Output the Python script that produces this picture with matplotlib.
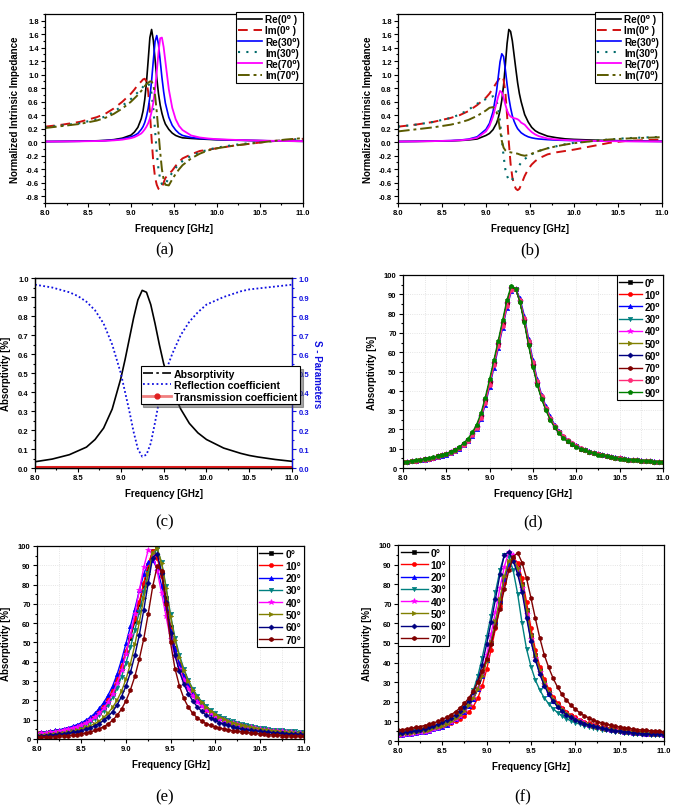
import matplotlib
matplotlib.use("Agg")
import matplotlib.pyplot as plt
from matplotlib.ticker import MultipleLocator, FormatStrFormatter
from matplotlib.lines import Line2D

plt.rcParams["font.family"] = ["Liberation Sans", "DejaVu Sans"]
plt.rcParams["font.weight"] = "bold"
plt.rcParams["axes.labelweight"] = "bold"
plt.rcParams["axes.linewidth"] = 0.9
plt.rcParams["xtick.major.size"] = 3
plt.rcParams["ytick.major.size"] = 3
plt.rcParams["xtick.minor.size"] = 1.6
plt.rcParams["ytick.minor.size"] = 1.6

# ---------------- data: panels (a) and (b) ----------------
freq_ab = [8.0, 8.2, 8.4, 8.6, 8.7, 8.8, 8.9, 9.0, 9.04, 9.08, 9.12, 9.14, 9.16, 9.18, 9.2,
           9.22, 9.24, 9.26, 9.28, 9.3, 9.32, 9.34, 9.36, 9.38, 9.4, 9.44, 9.48, 9.52, 9.56,
           9.6, 9.7, 9.8, 9.9, 10.0, 10.2, 10.4, 10.6, 10.8, 11.0]

re0_a = [.01, .012, .015, .021, .027, .038, .06, .105, .15, .22, .35, .46, .63, .88, 1.21,
         1.55, 1.67, 1.51, 1.23, .95, .72, .55, .43, .34, .27, .19, .135, .10, .08,
         .065, .056, .048, .042, .037, .03, .025, .02, .016, .013]
im0_a = [.23, .26, .30, .37, .42, .50, .60, .72, .78, .85, .90, .93, .94, .90, .75,
         .45, .05, -.30, -.52, -.63, -.69, -.70, -.67, -.60, -.53, -.47, -.42, -.35, -.29,
         -.24, -.18, -.13, -.11, -.09, -.05, -.02, .01, .03, .05]
re30_a = [.01, .012, .014, .019, .024, .032, .048, .08, .10, .13, .19, .23, .29, .38, .50,
          .67, .91, 1.21, 1.49, 1.58, 1.45, 1.21, .96, .75, .58, .37, .25, .18, .13,
          .10, .07, .055, .047, .04, .032, .026, .021, .017, .014]
im30_a = [.22, .25, .28, .34, .38, .45, .54, .64, .69, .74, .79, .82, .85, .87, .87,
          .83, .72, .50, .18, -.15, -.40, -.55, -.62, -.64, -.62, -.53, -.45, -.38, -.32,
          -.28, -.20, -.15, -.11, -.08, -.04, -.01, .01, .03, .05]
re70_a = [.01, .011, .013, .017, .021, .027, .038, .06, .075, .10, .13, .157, .19, .23, .28,
          .35, .45, .59, .785, 1.04, 1.33, 1.54, 1.55, 1.41, 1.20, .785, .51, .34, .24,
          .18, .10, .07, .055, .045, .035, .027, .022, .018, .015]
im70_a = [.21, .24, .27, .32, .36, .42, .50, .60, .65, .70, .76, .79, .83, .86, .88,
          .90, .90, .85, .70, .45, .15, -.15, -.40, -.55, -.63, -.64, -.55, -.47, -.40,
          -.34, -.24, -.17, -.12, -.09, -.05, -.02, .01, .04, .06]

re0_b = [.01, .012, .015, .02, .025, .033, .048, .10, .13, .185, .28, .36, .47, .62, .84,
         1.14, 1.46, 1.67, 1.64, 1.50, 1.29, 1.08, .88, .72, .60, .41, .30, .22, .17,
         .14, .09, .067, .05, .042, .032, .025, .02, .016, .013]
im0_b = [.23, .26, .30, .36, .40, .46, .55, .66, .72, .80, .88, .92, .96, .98, .93,
         .75, .40, .00, -.32, -.52, -.63, -.69, -.71, -.69, -.63, -.50, -.40, -.33, -.28,
         -.24, -.18, -.15, -.13, -.11, -.06, -.01, .02, .03, .04]
re30_b = [.01, .013, .017, .024, .031, .045, .08, .19, .28, .45, .75, .97, 1.19, 1.31, 1.27,
          1.08, .86, .66, .51, .39, .31, .25, .20, .17, .14, .105, .08, .065, .055,
          .048, .038, .031, .027, .024, .02, .017, .015, .013, .012]
im30_b = [.23, .26, .30, .36, .41, .48, .57, .64, .67, .68, .62, .50, .30, .05, -.20,
          -.40, -.50, -.56, -.58, -.55, -.50, -.44, -.39, -.34, -.30, -.25, -.21, -.18, -.15,
          -.13, -.09, -.06, -.03, -.01, .02, .04, .06, .07, .08]
re70_b = [.01, .012, .016, .022, .028, .04, .065, .16, .24, .38, .58, .68, .76, .74, .66,
          .56, .47, .41, .38, .365, .355, .35, .34, .32, .29, .26, .20, .15, .115,
          .09, .055, .04, .032, .027, .02, .016, .013, .011, .01]
im70_b = [.16, .19, .22, .26, .29, .33, .39, .47, .51, .52, .45, .35, .18, .02, -.08,
          -.12, -.14, -.145, -.15, -.155, -.16, -.165, -.17, -.18, -.19, -.20, -.19, -.17, -.15,
          -.13, -.09, -.06, -.035, -.015, .015, .04, .055, .065, .075]

ab_labels = ["Re(0\u2070 )", "Im(0\u2070 )", "Re(30\u2070)", "Im(30\u2070)", "Re(70\u2070)", "Im(70\u2070)"]

# ---------------- data: panel (c) ----------------
freq_c = [8.0, 8.2, 8.4, 8.5, 8.6, 8.7, 8.8, 8.9, 9.0, 9.05, 9.1, 9.15, 9.2, 9.25, 9.3,
          9.35, 9.4, 9.45, 9.5, 9.55, 9.6, 9.7, 9.8, 9.9, 10.0, 10.2, 10.4, 10.5, 10.6, 10.8, 11.0]
absorp_c = [.033, .047, .07, .09, .11, .15, .21, .31, .47, .57, .68, .79, .885, .935, .925,
            .86, .76, .65, .55, .47, .41, .31, .235, .185, .15, .105, .077, .066, .058, .045, .035]
reflect_c = [.965, .95, .925, .905, .875, .83, .76, .65, .5, .4, .3, .19, .1, .06, .07,
             .13, .24, .36, .46, .54, .6, .7, .77, .82, .86, .9, .93, .94, .945, .955, .965]
transmit_c = [.005] * 31

# ---------------- data: panels (d), (e), (f) ----------------
freq_def = [8.00, 8.05, 8.10, 8.15, 8.20, 8.25, 8.30, 8.35, 8.40, 8.45,
            8.50, 8.55, 8.60, 8.65, 8.70, 8.75, 8.80, 8.85, 8.90, 8.95,
            9.00, 9.05, 9.10, 9.15, 9.20, 9.25, 9.30, 9.35, 9.40, 9.45,
            9.50, 9.55, 9.60, 9.65, 9.70, 9.75, 9.80, 9.85, 9.90, 9.95,
            10.00, 10.05, 10.10, 10.15, 10.20, 10.25, 10.30, 10.35, 10.40, 10.45,
            10.50, 10.55, 10.60, 10.65, 10.70, 10.75, 10.80, 10.85, 10.90, 10.95, 11.00]

d_0 = [3.0, 3.2, 3.5, 3.8, 4.1, 4.5, 4.9, 5.4, 6.0, 6.6, 7.3, 8.1, 9.1, 10.5, 12.3, 14.6, 17.6, 21.5, 27.0, 35.0,
       44.5, 54.5, 64.5, 75.0, 85.5, 93.5, 93.0, 86.5, 76.5, 64.5, 53.5, 44.0, 36.5, 30.5, 25.5, 21.5, 18.5, 16.0, 14.0, 12.5,
       11.2, 10.1, 9.2, 8.4, 7.7, 7.1, 6.6, 6.1, 5.7, 5.3, 5.0, 4.7, 4.4, 4.2, 4.0, 3.8, 3.6, 3.4, 3.3, 3.1, 3.0]
d_20 = [2.9, 3.1, 3.4, 3.7, 4.0, 4.4, 4.8, 5.2, 5.8, 6.4, 7.0, 7.8, 8.8, 10.0, 11.7, 13.9, 16.7, 20.3, 25.3, 32.8,
        42.0, 52.0, 62.0, 72.5, 83.0, 91.5, 93.0, 88.0, 79.0, 67.0, 56.0, 46.0, 38.0, 32.0, 26.8, 22.5, 19.3, 16.8, 14.6, 13.0,
        11.7, 10.5, 9.5, 8.7, 8.0, 7.3, 6.8, 6.3, 5.9, 5.5, 5.1, 4.8, 4.5, 4.3, 4.1, 3.9, 3.7, 3.5, 3.4, 3.2, 3.1]
d_80 = [2.9, 3.1, 3.4, 3.7, 4.0, 4.4, 4.8, 5.3, 5.9, 6.5, 7.1, 7.9, 8.9, 10.2, 12.0, 14.2, 17.1, 20.8, 26.0, 33.8,
        43.2, 53.2, 63.2, 73.5, 84.0, 92.0, 92.5, 87.0, 77.5, 65.8, 54.8, 45.0, 37.3, 31.2, 26.1, 22.0, 18.9, 16.4, 14.3, 12.7,
        11.4, 10.3, 9.3, 8.5, 7.8, 7.2, 6.7, 6.2, 5.8, 5.4, 5.0, 4.7, 4.4, 4.2, 4.0, 3.8, 3.6, 3.4, 3.3, 3.1, 3.0]
d_90 = [3.1, 3.3, 3.6, 3.9, 4.2, 4.6, 5.0, 5.5, 6.1, 6.8, 7.5, 8.4, 9.4, 10.9, 12.8, 15.2, 18.4, 22.5, 28.3, 36.5,
        46.0, 56.0, 66.0, 76.5, 87.0, 94.5, 93.0, 86.0, 75.5, 63.5, 52.5, 43.0, 35.8, 29.8, 25.0, 21.0, 18.1, 15.7, 13.8, 12.3,
        11.0, 10.0, 9.1, 8.3, 7.6, 7.0, 6.5, 6.0, 5.6, 5.2, 4.9, 4.6, 4.3, 4.1, 3.9, 3.7, 3.5, 3.4, 3.2, 3.1, 3.0]
d_labels = ["0\u2070", "10\u2070", "20\u2070", "30\u2070", "40\u2070", "50\u2070", "60\u2070", "70\u2070", "80\u2070", "90\u2070"]
d_series = [d_0, d_0, d_20, d_0, d_0, d_0, d_0, d_0, d_80, d_90]

e_0 = [2.7, 2.9, 3.1, 3.4, 3.7, 4.1, 4.5, 5.0, 5.6, 6.4, 7.4, 8.6, 10.0, 11.8, 14.0, 16.8, 20.2, 24.5, 30.0, 37.0,
       44.5, 52.5, 61.0, 70.0, 80.0, 89.0, 97.5, 95.0, 86.0, 73.0, 58.0, 47.0, 39.0, 32.5, 27.5, 23.5, 20.0, 17.5, 15.3, 13.5,
       12.0, 10.8, 9.8, 9.0, 8.3, 7.6, 7.0, 6.5, 6.0, 5.6, 5.2, 4.9, 4.6, 4.3, 4.1, 3.9, 3.7, 3.5, 3.3, 3.2, 3.0]
e_10 = [2.9, 3.1, 3.3, 3.6, 3.9, 4.3, 4.8, 5.3, 5.9, 6.7, 7.7, 8.9, 10.4, 12.3, 14.6, 17.5, 21.0, 25.5, 31.0, 38.0,
        45.5, 53.5, 62.0, 71.0, 81.0, 90.5, 97.5, 94.0, 84.5, 71.5, 57.0, 46.5, 38.5, 32.3, 27.3, 23.3, 20.0, 17.4, 15.2, 13.4,
        12.0, 10.8, 9.8, 9.0, 8.3, 7.6, 7.0, 6.5, 6.0, 5.6, 5.2, 4.9, 4.6, 4.3, 4.1, 3.9, 3.7, 3.5, 3.3, 3.2, 3.0]
e_20 = [3.2, 3.4, 3.7, 4.0, 4.4, 4.8, 5.3, 5.9, 6.6, 7.4, 8.4, 9.7, 11.3, 13.3, 15.8, 18.9, 22.8, 27.5, 33.5, 41.0,
        49.5, 58.5, 67.5, 77.0, 85.5, 91.5, 92.5, 88.5, 79.5, 68.0, 56.0, 46.5, 39.0, 32.8, 27.8, 23.7, 20.3, 17.6, 15.4, 13.6,
        12.1, 10.9, 9.9, 9.1, 8.3, 7.7, 7.1, 6.6, 6.1, 5.7, 5.3, 5.0, 4.7, 4.4, 4.2, 4.0, 3.8, 3.6, 3.4, 3.3, 3.1]
e_30 = [2.5, 2.7, 2.9, 3.2, 3.5, 3.8, 4.2, 4.7, 5.2, 5.9, 6.7, 7.7, 8.9, 10.4, 12.3, 14.7, 17.7, 21.5, 26.3, 32.3,
        39.5, 47.5, 56.5, 66.0, 76.0, 86.0, 95.0, 98.5, 91.5, 79.0, 64.5, 52.5, 43.5, 36.3, 30.5, 26.0, 22.3, 19.4, 17.0, 15.0,
        13.3, 12.0, 10.9, 9.9, 9.1, 8.4, 7.8, 7.2, 6.7, 6.3, 5.9, 5.5, 5.2, 4.9, 4.7, 4.4, 4.2, 4.0, 3.9, 3.7, 3.6]
e_40 = [2.8, 3.0, 3.2, 3.5, 3.8, 4.2, 4.6, 5.1, 5.7, 6.4, 7.2, 8.3, 9.6, 11.3, 13.4, 16.0, 19.3, 23.5, 28.8, 35.5,
        44.0, 54.0, 65.0, 77.0, 89.0, 98.0, 96.0, 87.0, 75.5, 63.5, 52.0, 43.0, 36.0, 30.5, 26.0, 22.3, 19.3, 16.9, 14.9, 13.2,
        11.8, 10.6, 9.6, 8.8, 8.1, 7.5, 6.9, 6.4, 6.0, 5.6, 5.2, 4.9, 4.6, 4.3, 4.1, 3.9, 3.7, 3.5, 3.3, 3.2, 3.0]
e_50 = [2.0, 2.1, 2.3, 2.5, 2.7, 3.0, 3.3, 3.7, 4.1, 4.6, 5.2, 6.0, 6.9, 8.0, 9.4, 11.2, 13.5, 16.4, 20.1, 24.8,
        31.0, 39.0, 49.0, 60.5, 73.0, 85.5, 96.5, 99.0, 91.0, 78.0, 63.5, 51.5, 42.5, 35.5, 30.0, 25.5, 21.8, 18.9, 16.5, 14.5,
        12.8, 11.4, 10.3, 9.3, 8.5, 7.8, 7.2, 6.6, 6.1, 5.7, 5.3, 4.9, 4.6, 4.3, 4.0, 3.8, 3.6, 3.4, 3.2, 3.0, 2.9]
e_60 = [1.5, 1.6, 1.8, 2.0, 2.2, 2.4, 2.7, 3.0, 3.4, 3.8, 4.3, 5.0, 5.8, 6.8, 8.0, 9.6, 11.6, 14.2, 17.6, 22.0,
        27.5, 34.5, 43.5, 54.0, 67.0, 81.0, 94.0, 96.0, 86.0, 71.0, 55.0, 43.5, 35.0, 28.5, 23.5, 19.7, 16.7, 14.3, 12.4, 10.9,
        9.6, 8.5, 7.7, 7.0, 6.4, 5.8, 5.3, 4.9, 4.6, 4.2, 4.0, 3.7, 3.5, 3.3, 3.1, 2.9, 2.8, 2.7, 2.5, 2.4, 2.3]
e_70 = [0.8, 0.9, 1.0, 1.1, 1.2, 1.4, 1.6, 1.8, 2.0, 2.3, 2.7, 3.1, 3.7, 4.4, 5.3, 6.4, 7.8, 9.7, 12.2, 15.5,
        19.8, 25.5, 32.5, 41.5, 52.0, 65.0, 79.0, 89.5, 87.0, 70.0, 50.0, 36.5, 27.5, 21.0, 16.5, 13.3, 11.0, 9.3, 8.0, 7.0,
        6.3, 5.7, 5.2, 4.7, 4.3, 4.0, 3.7, 3.4, 3.1, 2.9, 2.7, 2.5, 2.3, 2.1, 2.0, 1.8, 1.7, 1.6, 1.5, 1.4, 1.3]
e_series = [e_0, e_10, e_20, e_30, e_40, e_50, e_60, e_70]

f_0 = [4.5, 4.7, 4.9, 5.1, 5.4, 5.7, 6.0, 6.4, 6.9, 7.4, 8.0, 8.8, 9.8, 11.2, 13.0, 15.3, 18.0, 21.5, 26.5, 33.5,
       41.5, 50.0, 60.0, 71.0, 82.0, 91.0, 93.0, 89.0, 80.0, 67.0, 54.0, 44.0, 36.0, 30.0, 25.2, 21.5, 18.6, 16.2, 14.3, 12.7,
       11.4, 10.3, 9.4, 8.6, 7.9, 7.3, 6.8, 6.3, 5.9, 5.5, 5.2, 4.9, 4.6, 4.4, 4.2, 4.0, 3.9, 3.8, 3.6, 3.5, 3.4]
f_10 = [4.3, 4.5, 4.7, 4.9, 5.1, 5.4, 5.7, 6.0, 6.4, 6.9, 7.5, 8.2, 9.0, 10.0, 11.3, 12.8, 14.8, 17.6, 21.8, 28.0,
        36.5, 46.5, 57.5, 69.0, 80.5, 90.0, 93.5, 91.0, 83.0, 71.0, 57.5, 46.5, 38.0, 31.5, 26.5, 22.5, 19.5, 17.0, 15.0, 13.3,
        12.0, 10.9, 9.9, 9.1, 8.4, 7.8, 7.2, 6.7, 6.3, 5.9, 5.6, 5.3, 5.0, 4.8, 4.6, 4.4, 4.3, 4.2, 4.1, 4.0, 3.9]
f_20 = [3.0, 3.2, 3.4, 3.7, 4.0, 4.4, 4.8, 5.3, 5.9, 6.6, 7.4, 8.4, 9.6, 11.0, 12.8, 15.0, 17.8, 21.5, 26.5, 33.0,
        41.5, 51.0, 61.0, 72.0, 82.5, 90.5, 92.5, 87.5, 78.0, 64.5, 51.5, 42.0, 34.5, 28.8, 24.2, 20.6, 17.8, 15.6, 13.8, 12.3,
        11.0, 10.0, 9.1, 8.3, 7.7, 7.1, 6.6, 6.1, 5.7, 5.4, 5.1, 4.8, 4.5, 4.3, 4.1, 3.9, 3.7, 3.6, 3.5, 3.4, 3.3]
f_30 = [4.0, 4.2, 4.5, 4.8, 5.1, 5.5, 6.0, 6.5, 7.1, 7.8, 8.6, 9.6, 10.8, 12.3, 14.3, 16.9, 20.4, 25.8, 33.0, 42.5,
        53.0, 64.0, 76.0, 87.0, 95.0, 94.0, 87.0, 75.0, 60.0, 47.0, 38.0, 31.0, 26.0, 22.0, 19.0, 16.5, 14.5, 12.8, 11.4, 10.3,
        9.4, 8.6, 7.9, 7.3, 6.7, 6.2, 5.8, 5.4, 5.0, 4.7, 4.4, 4.2, 4.0, 3.8, 3.6, 3.5, 3.4, 3.3, 3.2, 3.1, 3.0]
f_40 = [3.0, 3.2, 3.4, 3.7, 4.0, 4.4, 4.8, 5.3, 5.9, 6.6, 7.5, 8.5, 9.7, 11.2, 13.0, 15.3, 18.2, 22.0, 27.0, 34.5,
        44.0, 54.5, 66.0, 78.0, 89.0, 96.5, 95.0, 88.0, 78.0, 65.0, 52.0, 42.5, 35.0, 29.0, 24.5, 20.9, 18.0, 15.7, 13.8, 12.3,
        11.0, 10.0, 9.1, 8.3, 7.7, 7.1, 6.6, 6.1, 5.7, 5.4, 5.1, 4.8, 4.5, 4.3, 4.1, 3.9, 3.7, 3.6, 3.5, 3.4, 3.3]
f_50 = [3.5, 3.7, 3.9, 4.2, 4.5, 4.9, 5.3, 5.8, 6.4, 7.1, 7.9, 8.9, 10.1, 11.5, 13.2, 15.4, 18.2, 21.8, 26.5, 33.0,
        41.0, 50.5, 61.0, 72.5, 84.0, 92.0, 93.5, 88.5, 79.5, 67.0, 54.0, 44.0, 36.0, 30.0, 25.2, 21.5, 18.6, 16.2, 14.3, 12.7,
        11.4, 10.3, 9.4, 8.6, 7.9, 7.3, 6.8, 6.3, 5.9, 5.5, 5.2, 4.9, 4.6, 4.4, 4.2, 4.0, 3.9, 3.8, 3.6, 3.5, 3.4]
f_60 = [4.0, 4.3, 4.6, 4.9, 5.3, 5.8, 6.3, 6.9, 7.6, 8.5, 9.5, 10.6, 11.9, 13.4, 15.3, 17.6, 20.6, 24.8, 30.5, 39.0,
        49.5, 60.5, 72.5, 85.0, 95.0, 96.5, 92.0, 85.0, 76.0, 63.0, 51.0, 41.5, 34.0, 28.3, 23.8, 20.3, 17.5, 15.3, 13.5, 12.0,
        10.8, 9.8, 8.9, 8.2, 7.6, 7.0, 6.5, 6.0, 5.6, 5.3, 5.0, 4.7, 4.4, 4.2, 4.0, 3.8, 3.7, 3.6, 3.5, 3.4, 3.3]
f_70 = [5.5, 5.8, 6.1, 6.5, 6.9, 7.4, 7.9, 8.5, 9.2, 10.0, 11.0, 12.1, 13.4, 15.0, 16.9, 19.2, 22.0, 25.5, 30.0, 35.5,
        42.0, 49.5, 58.0, 67.5, 77.5, 87.0, 94.0, 96.0, 91.0, 83.0, 73.0, 62.5, 52.5, 44.0, 37.5, 32.0, 27.5, 23.8, 20.8, 18.3,
        16.2, 14.5, 13.0, 11.8, 10.8, 9.9, 9.2, 8.6, 8.0, 7.5, 7.1, 6.7, 6.4, 6.1, 5.8, 5.6, 5.4, 5.2, 5.1, 4.9, 4.8]
f_series = [f_0, f_10, f_20, f_30, f_40, f_50, f_60, f_70]
ef_labels = ["0\u00b0", "10\u00b0", "20\u00b0", "30\u00b0", "40\u00b0", "50\u00b0", "60\u00b0", "70\u00b0"]

# ---------------- styles ----------------
angle_colors = ["#000000", "#ff0000", "#0000ff", "#008080", "#ff00ff", "#808000",
                "#000080", "#800000", "#ff2d78", "#008000"]
angle_markers = ["s", "o", "^", "v", "*", ">", "D", "h", "o", "p"]
angle_msize = [3, 3, 3.2, 3.2, 4.2, 3.2, 2.6, 3.2, 3, 3.4]

fig = plt.figure(figsize=(6.75, 8.12), dpi=100)
fig.patch.set_facecolor("white")


def style(ax, ylo, yhi, ymaj, ymin, fmt, grid=False):
    ax.set_xlim(8, 11)
    ax.set_ylim(ylo, yhi)
    ax.xaxis.set_major_locator(MultipleLocator(0.5))
    ax.xaxis.set_minor_locator(MultipleLocator(0.25))
    ax.xaxis.set_major_formatter(FormatStrFormatter("%.1f"))
    ax.yaxis.set_major_locator(MultipleLocator(ymaj))
    ax.yaxis.set_minor_locator(MultipleLocator(ymin))
    ax.yaxis.set_major_formatter(FormatStrFormatter(fmt))
    ax.tick_params(which="both", labelsize=5.5, pad=1.5, width=0.8)
    ax.set_xlabel("Frequency [GHz]", fontsize=7, labelpad=5)
    if grid:
        ax.grid(True, which="major", axis="y", color="#dcdcdc", ls=":", lw=0.6)
        ax.grid(True, which="both", axis="x", color="#dcdcdc", ls=":", lw=0.6)
        ax.set_axisbelow(True)


def leg(ax, size=7.2, spacing=0.15, **kw):
    l = ax.legend(prop={"size": size, "weight": "bold"}, frameon=True, fancybox=False,
                  edgecolor="black", framealpha=1, borderpad=0.25, labelspacing=spacing,
                  handletextpad=0.3, borderaxespad=0.0, **kw)
    l.get_frame().set_linewidth(0.8)
    return l


# ---- (a) and (b) ----
for rect, data in [([0.0667, 0.7488, 0.382, 0.2328], (re0_a, im0_a, re30_a, im30_a, re70_a, im70_a)),
                   ([0.5896, 0.7488, 0.391, 0.2328], (re0_b, im0_b, re30_b, im30_b, re70_b, im70_b))]:
    ax = fig.add_axes(rect)
    re0, im0, re30, im30, re70, im70 = data
    ax.plot(freq_ab, re0, color="black", lw=1.2, label=ab_labels[0])
    ax.plot(freq_ab, im0, color="#d01010", lw=1.4, ls=(0, (5, 3)), label=ab_labels[1])
    ax.plot(freq_ab, re30, color="#0000ff", lw=1.2, label=ab_labels[2])
    ax.plot(freq_ab, im30, color="#006a6a", lw=1.5, ls=(0, (1, 3)), label=ab_labels[3])
    ax.plot(freq_ab, re70, color="#ff00ff", lw=1.3, label=ab_labels[4])
    ax.plot(freq_ab, im70, color="#5a5a00", lw=1.4, ls=(0, (6, 2, 1.5, 2)), label=ab_labels[5])
    style(ax, -0.9, 1.9, 0.2, 0.1, "%.1f")
    ax.set_ylabel("Normalized Intrinsic Impedance", fontsize=7, labelpad=4)
    leg(ax, size=7.2, spacing=0.12, loc="upper right", bbox_to_anchor=(1.0, 1.012), handlelength=2.4)

# ---- (c) ----
axc = fig.add_axes([0.0519, 0.4224, 0.381, 0.234])
axc.plot(freq_c, absorp_c, color="black", lw=1.2)
style(axc, 0, 1.0, 0.1, 0.05, "%.1f")
axc.set_ylabel("Absorptivity [%]", fontsize=7, labelpad=5)
axc2 = axc.twinx()
axc2.plot(freq_c, reflect_c, color="#1010e0", lw=1.3, ls=(0, (1, 1.3)))
axc2.plot(freq_c, transmit_c, color="#e02020", lw=2.2)
axc2.set_ylim(0, 1.0)
axc2.yaxis.set_major_locator(MultipleLocator(0.1))
axc2.yaxis.set_minor_locator(MultipleLocator(0.05))
axc2.yaxis.set_major_formatter(FormatStrFormatter("%.1f"))
axc2.tick_params(which="both", labelsize=5.5, pad=1.5, width=0.8, colors="#1010e0")
axc2.spines["right"].set_color("#1010e0")
axc2.set_ylabel("S - Parameters", fontsize=7, color="#1010e0", rotation=270, labelpad=9)
handles_c = [Line2D([], [], color="black", lw=1.2, ls=(0, (6, 2, 1.5, 2))),
             Line2D([], [], color="#1010e0", lw=1.3, ls=(0, (1, 1.5))),
             Line2D([], [], color="#f08080", lw=2.0, marker="o", markersize=3.5,
                    markerfacecolor="#e02020", markeredgecolor="#e02020")]
lc = axc2.legend(handles_c, ["Absorptivity", "Reflection coefficient", "Transmission coefficient"],
                 loc="upper left", bbox_to_anchor=(0.39, 0.565), prop={"size": 7.6, "weight": "bold"},
                 frameon=True, fancybox=False, shadow=True, edgecolor="black", framealpha=1,
                 borderpad=0.25, labelspacing=0.15, handlelength=2.6, handletextpad=0.3)
lc.get_frame().set_linewidth(0.8)

# ---- (d) ----
axd = fig.add_axes([0.597, 0.4224, 0.385, 0.2377])
for i, (lab, vals) in enumerate(zip(d_labels, d_series)):
    axd.plot(freq_def, vals, color=angle_colors[i], lw=1.0, marker=angle_markers[i],
             markersize=angle_msize[i], markeredgewidth=0.4, label=lab)
style(axd, 0, 100, 10, 5, "%d", grid=True)
axd.set_ylabel("Absorptivity [%]", fontsize=7, labelpad=5)
leg(axd, size=7.3, spacing=0.22, loc="upper right", bbox_to_anchor=(1.0, 1.0), handlelength=2.2)

# ---- (e) ----
axe = fig.add_axes([0.0548, 0.0887, 0.3956, 0.2377])
for i, (lab, vals) in enumerate(zip(ef_labels, e_series)):
    axe.plot(freq_def, vals, color=angle_colors[i], lw=1.0, marker=angle_markers[i],
             markersize=angle_msize[i], markeredgewidth=0.4, label=lab)
style(axe, 0, 100, 10, 5, "%d", grid=True)
axe.set_ylabel("Absorptivity [%]", fontsize=7, labelpad=5)
leg(axe, size=7.5, spacing=0.22, loc="upper right", bbox_to_anchor=(1.0, 1.0), handlelength=2.2)

# ---- (f) ----
axf = fig.add_axes([0.5896, 0.0862, 0.394, 0.2414])
for i, (lab, vals) in enumerate(zip(ef_labels, f_series)):
    axf.plot(freq_def, vals, color=angle_colors[i], lw=1.0, marker=angle_markers[i],
             markersize=angle_msize[i], markeredgewidth=0.4, label=lab)
style(axf, 0, 100, 10, 5, "%d", grid=True)
axf.set_ylabel("Absorptivity [%]", fontsize=7, labelpad=5)
leg(axf, size=7.5, spacing=0.22, loc="upper left", bbox_to_anchor=(0.0, 1.0), handlelength=2.6)

# ---- panel letters ----
for x, y, t in [(0.244, 0.692, "(a)"), (0.785, 0.692, "(b)"), (0.244, 0.357, "(c)"),
                (0.79, 0.357, "(d)"), (0.244, 0.0185, "(e)"), (0.775, 0.0185, "(f)")]:
    fig.text(x, y, t, ha="center", va="center", fontsize=12, family="Liberation Serif",
             weight="normal")

fig.savefig("out.png", dpi=100, facecolor="white")
